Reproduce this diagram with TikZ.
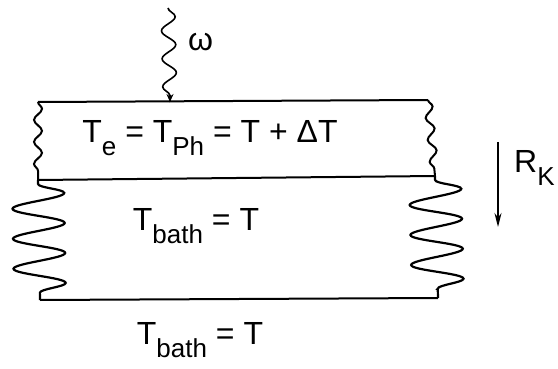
\documentclass[tikz,border=0pt]{standalone}
\usepackage{fontspec}
\setmainfont{Liberation Sans}
\usepackage{tikz}
\usetikzlibrary{decorations.pathmorphing,arrows.meta}

\newcommand\lowtxt[1]{\raisebox{-0.8ex}{\fontsize{26}{26}\selectfont #1}}

\tikzset{
  wall/.style={line width=2pt},
  smallwig/.style={line width=2pt, decorate,
    decoration={snake, amplitude=4pt, segment length=22pt}},
  bigwig/.style={line width=2.2pt, decorate,
    decoration={snake, amplitude=26pt, segment length=30pt, pre length=4pt, post length=6pt}},
  photon/.style={line width=1.6pt, decorate,
    decoration={snake, amplitude=7pt, segment length=28pt, post length=6pt}},
  label/.style={font=\fontsize{32}{32}\selectfont, inner sep=0pt}
}

\begin{document}
\begin{tikzpicture}[x=1pt,y=-1pt]
\useasboundingbox (0,0) rectangle (558,369);
% corners of the two layers
\coordinate (tl) at (38,102);
\coordinate (tr) at (428,100);
\coordinate (ml) at (38,180);
\coordinate (mr) at (435,176);
\coordinate (bl) at (40,300);
\coordinate (br) at (438,298);
\coordinate (ph0) at (168,8);
\coordinate (ph1) at (170,102);
% film
\draw[wall] (tl) -- (tr);
\draw[wall] (ml) -- (mr);
\draw[wall] (bl) -- (br);
\draw[smallwig] (tl) -- (ml);
\draw[smallwig] (tr) -- (mr);
\draw[bigwig] (ml) -- (bl);
\draw[bigwig] (mr) -- (br);
% photon
\draw[photon] (ph0) -- (ph1);
\draw[-{Stealth[length=8pt,width=7pt]}, line width=1.6pt] (170,95) -- (ph1);
\node[label, anchor=west] (omega) at (188,42) {ω};
% temperatures
\node[label] (telec) at (210,138) {T\lowtxt{e} = T\lowtxt{Ph} = T + ΔT};
\node[label] (tfilm) at (196,226) {T\lowtxt{bath} = T};
\node[label] (tsub) at (200,340) {T\lowtxt{bath} = T};
% Kapitza resistance
\coordinate (rk0) at (498,142);
\coordinate (rk1) at (498,227);
\draw[-{Stealth[length=14pt,width=7pt]}, line width=1.5pt] (rk0) -- (rk1);
\node[label, anchor=west] (rk) at (514,168) {R\lowtxt{K}};
\end{tikzpicture}
\end{document}
